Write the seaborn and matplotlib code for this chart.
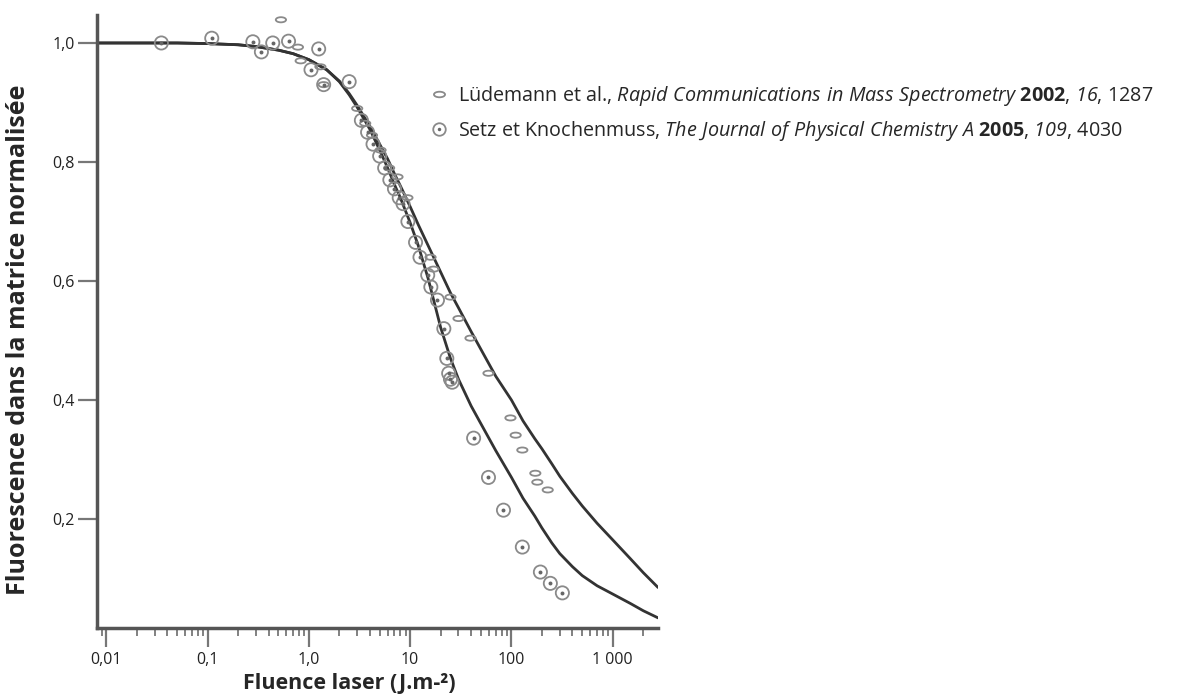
import numpy as np
import pandas as pd
import matplotlib
matplotlib.use("Agg")
import matplotlib.pyplot as plt
import seaborn as sns
from matplotlib.path import Path
from matplotlib.transforms import Affine2D
from matplotlib.lines import Line2D
from matplotlib.ticker import FixedLocator, LogLocator, NullFormatter

sns.set_style("white")
plt.rcParams["font.family"] = ["Open Sans", "DejaVu Sans"]
plt.rcParams["mathtext.fontset"] = "custom"
plt.rcParams["mathtext.rm"] = "Open Sans"
plt.rcParams["mathtext.it"] = "Open Sans:italic"
plt.rcParams["mathtext.sf"] = "Open Sans:italic"
plt.rcParams["mathtext.bf"] = "Open Sans:bold"

# fitted curves
curve_f = [0.008, 0.01, 0.02, 0.05, 0.1, 0.2, 0.3, 0.5, 0.7, 1, 1.5, 2, 2.5, 3, 4, 5,
           6, 7, 8, 10, 12, 15, 20, 25, 30, 40, 50, 70, 100, 130, 170, 200, 250, 300,
           400, 500, 700, 1000, 1500, 2000, 2800]
curve_setz = [1.0, 1.0, 1.0, 1.0, 0.999, 0.997, 0.994, 0.988, 0.982, 0.972, 0.955,
              0.935, 0.913, 0.892, 0.855, 0.82, 0.79, 0.762, 0.74, 0.698, 0.66, 0.605,
              0.522, 0.47, 0.435, 0.39, 0.36, 0.315, 0.27, 0.235, 0.205, 0.185, 0.16,
              0.142, 0.12, 0.105, 0.088, 0.074, 0.058, 0.046, 0.034]
curve_lud = [1.0, 1.0, 1.0, 1.0, 0.999, 0.997, 0.994, 0.988, 0.982, 0.972, 0.955,
             0.936, 0.915, 0.895, 0.86, 0.83, 0.805, 0.78, 0.76, 0.725, 0.695, 0.66,
             0.615, 0.58, 0.555, 0.515, 0.485, 0.44, 0.40, 0.365, 0.335, 0.318, 0.293,
             0.272, 0.243, 0.222, 0.193, 0.165, 0.133, 0.11, 0.085]

# Setz et Knochenmuss points
setz_f = [0.035, 0.11, 0.28, 0.34, 0.44, 0.63, 1.05, 1.25, 1.4, 2.5, 3.3, 3.8, 4.3,
          5.0, 5.6, 6.3, 7.0, 7.8, 8.5, 9.5, 11.3, 12.5, 14.9, 16, 18.6, 21.5, 23,
          24, 25, 26, 42.3, 59.3, 83.4, 128, 193, 242, 318]
setz_y = [1.0, 1.008, 1.002, 0.985, 1.0, 1.003, 0.955, 0.99, 0.93, 0.935, 0.87, 0.85,
          0.83, 0.81, 0.79, 0.77, 0.755, 0.74, 0.73, 0.70, 0.665, 0.64, 0.61, 0.59,
          0.568, 0.52, 0.47, 0.445, 0.435, 0.43, 0.336, 0.27, 0.215, 0.153, 0.111,
          0.092, 0.076]

# Ludemann points
lud_f = [0.53, 0.78, 0.83, 1.3, 1.4, 3.0, 3.6, 4.2, 5.1, 6.2, 7.5, 9.4, 15.9, 17,
         25, 30, 39.4, 59.3, 97.7, 110, 128, 172, 180, 228]
lud_y = [1.039, 0.993, 0.97, 0.96, 0.93, 0.89, 0.865, 0.845, 0.82, 0.79, 0.775, 0.74,
         0.64, 0.62, 0.573, 0.537, 0.504, 0.445, 0.37, 0.341, 0.316, 0.277, 0.262,
         0.249]

xticks = [0.01, 0.1, 1, 10, 100, 1000]
xtick_labels = ["0,01", "0,1", "1,0", "10", "100", "1 000"]
yticks = [0.2, 0.4, 0.6, 0.8, 1.0]
ytick_labels = ["0,2", "0,4", "0,6", "0,8", "1,0"]

lud_label = (r"Lüdemann et al., $\it{Rapid\ Communications\ in\ Mass\ Spectrometry}$ "
             r"$\mathbf{2002}$, $\mathsf{16}$, 1287")
setz_label = (r"Setz et Knochenmuss, $\it{The\ Journal\ of\ Physical\ Chemistry\ A}$ "
              r"$\mathbf{2005}$, $\mathsf{109}$, 4030")

fig = plt.figure(figsize=(11.9, 6.98), dpi=100)
ax = fig.add_axes([0.0815, 0.1003, 0.4715, 0.8782])

ellipse = Path.unit_circle().transformed(Affine2D().scale(1.0, 0.5))
grey = "#8a8a8a"

df_c = pd.DataFrame({"f": curve_f, "setz": curve_setz, "lud": curve_lud})
sns.lineplot(data=df_c, x="f", y="setz", ax=ax, color="#333333", lw=2, estimator=None)
sns.lineplot(data=df_c, x="f", y="lud", ax=ax, color="#333333", lw=2, estimator=None)

df_s = pd.DataFrame({"f": setz_f, "y": setz_y})
df_l = pd.DataFrame({"f": lud_f, "y": lud_y})
sns.scatterplot(data=df_l, x="f", y="y", ax=ax, marker=ellipse, s=55,
                facecolor="none", edgecolor=grey, linewidth=1.3, zorder=3)
sns.scatterplot(data=df_s, x="f", y="y", ax=ax, marker="o", s=90,
                facecolor="none", edgecolor=grey, linewidth=1.3, zorder=3)
sns.scatterplot(data=df_s, x="f", y="y", ax=ax, marker="o", s=8,
                color="#666666", linewidth=0, zorder=3)

ax.set_xscale("log")
ax.set_xlim(0.0081, 2800)
ax.set_ylim(0.017, 1.047)
ax.xaxis.set_major_locator(FixedLocator(xticks))
ax.set_xticklabels(xtick_labels)
ax.xaxis.set_minor_locator(LogLocator(base=10, subs=np.arange(2, 10)))
ax.xaxis.set_minor_formatter(NullFormatter())
ax.set_yticks(yticks)
ax.set_yticklabels(ytick_labels)

for s in ["top", "right"]:
    ax.spines[s].set_visible(False)
for s in ["left", "bottom"]:
    ax.spines[s].set_color("#555555")
    ax.spines[s].set_linewidth(2.5)

ax.tick_params(axis="both", which="major", direction="out", length=14, width=1.6,
               color="#777777", labelsize=11.5, labelcolor="#222222", bottom=True, left=True)
ax.tick_params(axis="y", which="major", pad=2)
ax.tick_params(axis="x", which="minor", direction="out", length=6, width=1.3,
               color="#777777", bottom=True)

ax.set_xlabel("Fluence laser (J.m-²)", fontsize=15.5, fontweight="bold")
ax.xaxis.set_label_coords(0.45, -0.073)
ax.set_ylabel("Fluorescence dans la matrice normalisée", fontsize=18,
              fontweight="bold")
ax.yaxis.set_label_coords(-0.118, 0.47)

h_lud = Line2D([], [], ls="none", marker=ellipse, ms=8, mfc="none", mec=grey, mew=1.3)
h_setz_o = Line2D([], [], ls="none", marker="o", ms=9, mfc="none", mec=grey, mew=1.3)
h_setz_d = Line2D([], [], ls="none", marker="o", ms=2.5, mfc="#666666", mec="none")
fig.legend([h_lud, (h_setz_o, h_setz_d)], [lud_label, setz_label],
           loc="upper left", bbox_to_anchor=(0.347, 0.905), frameon=False,
           fontsize=14.2, handlelength=0.8, handletextpad=0.6, labelspacing=0.55)

fig.savefig("out.png", dpi=100)
